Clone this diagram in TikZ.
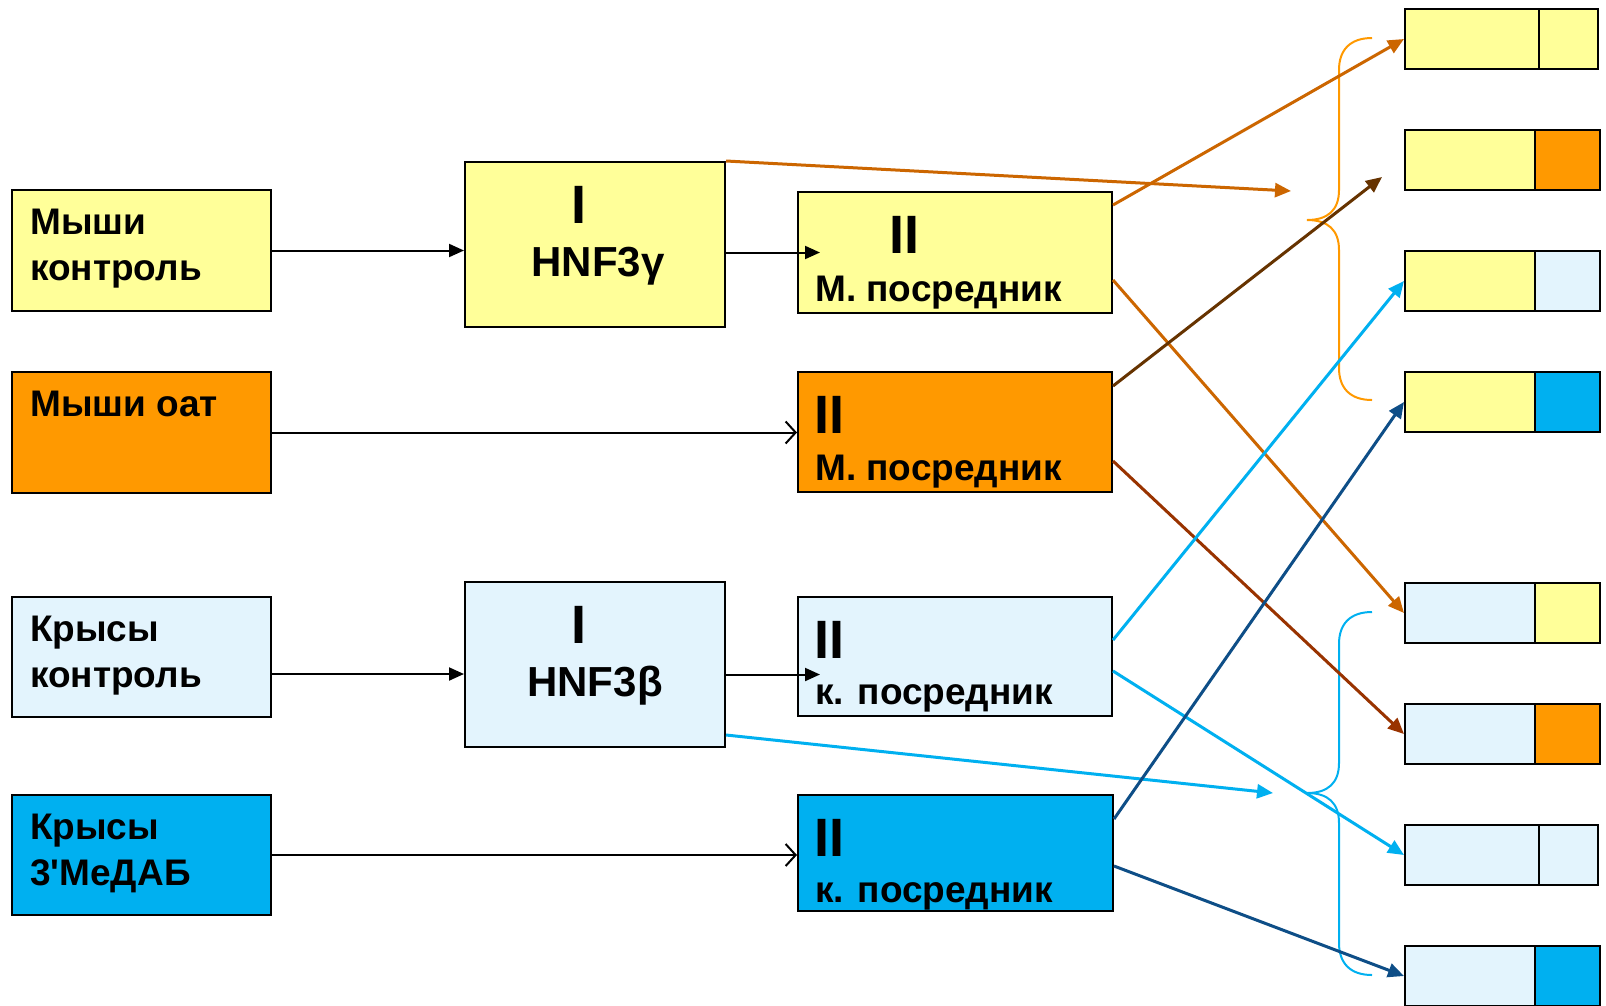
\documentclass[tikz,border=0pt]{standalone}
\usepackage{fontspec}
\setmainfont{Liberation Sans}
\usetikzlibrary{arrows.meta}
\definecolor{cyel}{HTML}{FFFF99}
\definecolor{corg}{HTML}{FF9900}
\definecolor{clb}{HTML}{E3F4FD}
\definecolor{cbl}{HTML}{00B0F0}
\definecolor{aorg}{HTML}{CC6600}
\definecolor{abrn}{HTML}{663300}
\definecolor{ared}{HTML}{993300}
\definecolor{adbl}{HTML}{0E4E87}
\begin{document}
\begin{tikzpicture}[x=1pt,y=-1pt,
  box/.style={draw=black,line width=2pt,inner sep=0pt,anchor=north west},
  cell/.style={box,minimum height=60pt},
  lbl/.style={inner sep=0pt,font=\fontsize{37}{46}\selectfont\bfseries,align=left,anchor=north west},
  rom/.style={inner sep=0pt,font=\fontsize{54}{60}\selectfont\bfseries},
  hnf/.style={inner sep=0pt,font=\fontsize{42}{48}\selectfont\bfseries,anchor=base},
  postxt/.style={inner sep=0pt,font=\fontsize{37}{42}\selectfont\bfseries,anchor=base west},
  blk/.style={draw=black,line width=2pt,-{Triangle[length=15pt,width=13pt]}},
  opn/.style={draw=black,line width=2pt,-{Straight Barb[length=10pt,width=22pt,line width=2pt]}},
  col/.style={line width=3pt,-{Triangle[length=16pt,width=14pt]}},
  brace/.style={line width=2pt}]
\useasboundingbox (0,0) rectangle (1606,1005);
\fill[white] (0,0) rectangle (1606,1005);

% left boxes
\node[box,fill=cyel,minimum width=259pt,minimum height=121pt] (mk) at (11,189) {};
\node[box,fill=corg,minimum width=259pt,minimum height=121pt] (mo) at (11,371) {};
\node[box,fill=clb,minimum width=259pt,minimum height=120pt] (kk) at (11,596) {};
\node[box,fill=cbl,minimum width=259pt,minimum height=120pt] (kd) at (11,794) {};
% stage I boxes
\node[box,fill=cyel,minimum width=260pt,minimum height=165pt] (g1) at (464,161) {};
\node[box,fill=clb,minimum width=260pt,minimum height=165pt] (b1) at (464,581) {};
% stage II boxes
\node[box,fill=cyel,minimum width=314pt,minimum height=121pt] (mp1) at (797,191) {};
\node[box,fill=corg,minimum width=314pt,minimum height=120pt] (mp2) at (797,371) {};
\node[box,fill=clb,minimum width=314pt,minimum height=119pt] (kp1) at (797,596) {};
\node[box,fill=cbl,minimum width=315pt,minimum height=116pt] (kp2) at (797,794) {};

% right result boxes
\node[cell,fill=cyel,minimum width=134pt] (r1a) at (1404,8) {};
\node[cell,fill=cyel,minimum width=59pt] (r1b) at (1538,8) {};
\node[cell,fill=cyel,minimum width=130pt] (r2a) at (1404,129) {};
\node[cell,fill=corg,minimum width=65pt] (r2b) at (1534,129) {};
\node[cell,fill=cyel,minimum width=130pt] (r3a) at (1404,250) {};
\node[cell,fill=clb,minimum width=65pt] (r3b) at (1534,250) {};
\node[cell,fill=cyel,minimum width=130pt] (r4a) at (1404,371) {};
\node[cell,fill=cbl,minimum width=65pt] (r4b) at (1534,371) {};
\node[cell,fill=clb,minimum width=130pt] (r5a) at (1404,582) {};
\node[cell,fill=cyel,minimum width=65pt] (r5b) at (1534,582) {};
\node[cell,fill=clb,minimum width=130pt] (r6a) at (1404,703) {};
\node[cell,fill=corg,minimum width=65pt] (r6b) at (1534,703) {};
\node[cell,fill=clb,minimum width=134pt] (r7a) at (1404,824) {};
\node[cell,fill=clb,minimum width=59pt] (r7b) at (1538,824) {};
\node[cell,fill=clb,minimum width=130pt] (r8a) at (1404,945) {};
\node[cell,fill=cbl,minimum width=65pt] (r8b) at (1534,945) {};

% texts
\node[lbl] (t1) at (30,209) {Мыши\\контроль};
\node[lbl] (t2) at (30,391) {Мыши оат};
\node[lbl] (t3) at (30,616) {Крысы\\контроль};
\node[lbl] (t4) at (30,814) {Крысы\\3\textquotesingle МеДАБ};
\node[rom,anchor=base] (gI) at (579,223) {I};
\node[hnf] (gH) at (598,276) {HNF3γ};
\node[rom,anchor=base] (bI) at (579,643) {I};
\node[hnf] (bH) at (595,696) {HNF3β};
\node[rom,anchor=base] (m1II) at (904,253) {II};
\node[rom,anchor=base west] (m2II) at (814,433) {II};
\node[rom,anchor=base west] (k1II) at (814,658) {II};
\node[rom,anchor=base west] (k2II) at (814,856) {II};
\node[postxt] (m1T) at (815,301) {М. посредник};
\node[postxt] (m2T) at (815,480) {М. посредник};
\node[postxt] (k1T) at (815,704) {к. посредник};
\node[postxt] (k2T) at (815,902) {к. посредник};

% braces
\draw[brace,draw=corg] (1372,38) .. controls (1350,38) and (1339,50) .. (1339,70) -- (1339,190)
  .. controls (1339,210) and (1328,220) .. (1307,220)
  .. controls (1328,220) and (1339,230) .. (1339,250) -- (1339,368)
  .. controls (1339,388) and (1350,400) .. (1372,400);
\draw[brace,draw=cbl] (1372,612) .. controls (1350,612) and (1339,624) .. (1339,644) -- (1339,763)
  .. controls (1339,783) and (1328,793) .. (1307,793)
  .. controls (1328,793) and (1339,803) .. (1339,823) -- (1339,943)
  .. controls (1339,963) and (1350,975) .. (1372,975);

% black arrows
\draw[blk] (mk.east) -- (mk.east -| g1.west);
\coordinate (e1) at ([xshift=23pt]mp1.west);
\draw[blk] (e1 -| g1.east) -- (e1);
\draw[opn] (mo.east) -- (mo.east -| mp2.west);
\draw[blk] ([yshift=-17pt]kk.east) -- ([yshift=-17pt]kk.east -| b1.west);
\coordinate (e2) at ([xshift=23pt,yshift=-18pt]kp1.west);
\draw[blk] (e2 -| b1.east) -- (e2);
\draw[opn] (kd.east) -- (kd.east -| kp2.west);

% coloured arrows
\coordinate (f1) at (1291,191);
\coordinate (f2) at (1382,177);
\coordinate (f3) at (1273,793);
\draw[col,draw=aorg,fill=aorg] (g1.north east) -- (f1);
\draw[col,draw=aorg,fill=aorg] ([yshift=-14pt]mp1.north east) -- (r1a.west);
\draw[col,draw=aorg,fill=aorg] ([yshift=-89pt]mp1.north east) -- (r5a.west);
\draw[col,draw=abrn,fill=abrn] ([yshift=-15pt]mp2.north east) -- (f2);
\draw[col,draw=ared,fill=ared] ([yshift=-90pt]mp2.north east) -- (r6a.west);
\draw[col,draw=cbl,fill=cbl] ([yshift=13pt]b1.south east) -- (f3);
\draw[col,draw=cbl,fill=cbl] ([yshift=-44pt]kp1.north east) -- (r3a.west);
\draw[col,draw=cbl,fill=cbl] ([yshift=-75pt]kp1.north east) -- (r7a.west);
\draw[col,draw=adbl,fill=adbl] ([yshift=-25pt]kp2.north east) -- (r4a.west);
\draw[col,draw=adbl,fill=adbl] ([yshift=-72pt]kp2.north east) -- (r8a.west);
\end{tikzpicture}
\end{document}
